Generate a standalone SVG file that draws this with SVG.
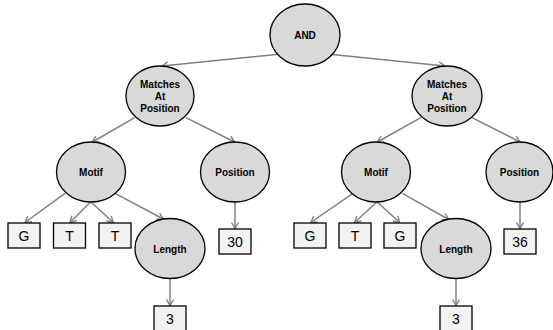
<svg xmlns="http://www.w3.org/2000/svg" width="553" height="330" viewBox="0 0 553 330">
<style>
.n{fill:#d9d9d9;stroke:#000;stroke-width:1.3}
.b{fill:#f2f2f2;stroke:#000;stroke-width:1.3}
.t{font-family:"Liberation Sans",Arial,sans-serif;font-weight:bold;font-size:10px;fill:#000;text-anchor:middle}
.v{font-family:"Liberation Sans",Arial,sans-serif;font-size:14px;fill:#000;text-anchor:middle}
.e{stroke:#808080;stroke-width:1.5;fill:none;marker-end:url(#a)}
</style>
<defs>
<marker id="a" markerUnits="userSpaceOnUse" markerWidth="10" markerHeight="10" refX="7" refY="4" orient="auto">
<path d="M1,0.5 L7,4 L1,7.5" fill="none" stroke="#808080" stroke-width="1.4"/>
</marker>
</defs>
<g id="connectors">
<line class="e" x1="278.7" y1="54.3" x2="162" y2="66"/>
<line class="e" x1="330" y1="54.3" x2="445" y2="66"/>
<line class="e" x1="134.7" y1="117.7" x2="92.4" y2="142"/>
<line class="e" x1="186" y1="117.7" x2="234.6" y2="142"/>
<line class="e" x1="420.8" y1="117.7" x2="377.4" y2="142"/>
<line class="e" x1="472" y1="117.7" x2="520" y2="142"/>
<line class="e" x1="65" y1="193.3" x2="25" y2="222.5"/>
<line class="e" x1="90.7" y1="201.7" x2="70" y2="222.5"/>
<line class="e" x1="90.7" y1="201.7" x2="113.3" y2="222.5"/>
<line class="e" x1="115" y1="193.3" x2="163.3" y2="219"/>
<line class="e" x1="235" y1="202" x2="235" y2="228.5"/>
<line class="e" x1="170" y1="278.5" x2="170" y2="305.5"/>
<line class="e" x1="353" y1="193.3" x2="310.7" y2="222.5"/>
<line class="e" x1="377" y1="201.7" x2="354.7" y2="222.5"/>
<line class="e" x1="377" y1="201.7" x2="399.7" y2="222.5"/>
<line class="e" x1="402.3" y1="193.3" x2="448.7" y2="219.5"/>
<line class="e" x1="520" y1="202" x2="520" y2="228.5"/>
<line class="e" x1="456" y1="278.5" x2="456" y2="305.5"/>
</g>
<g id="and"><ellipse class="n" cx="305" cy="35" rx="35" ry="31"/><text class="t" x="305" y="38.5">AND</text></g>
<g id="map1"><ellipse class="n" cx="160" cy="96" rx="34" ry="30"/><text class="t" x="160" y="88">Matches</text><text class="t" x="160" y="100">At</text><text class="t" x="160" y="112">Position</text></g>
<g id="map2"><ellipse class="n" cx="447" cy="96" rx="35" ry="30"/><text class="t" x="447" y="88">Matches</text><text class="t" x="447" y="100">At</text><text class="t" x="447" y="112">Position</text></g>
<g id="motif1"><ellipse class="n" cx="91" cy="172" rx="34.5" ry="30"/><text class="t" x="91" y="176">Motif</text></g>
<g id="pos1"><ellipse class="n" cx="235" cy="172" rx="34.5" ry="30"/><text class="t" x="235" y="176">Position</text></g>
<g id="motif2"><ellipse class="n" cx="376" cy="172" rx="34.5" ry="30"/><text class="t" x="376" y="176">Motif</text></g>
<g id="pos2"><ellipse class="n" cx="519.5" cy="172" rx="33.5" ry="30"/><text class="t" x="519.5" y="176">Position</text></g>
<g id="len1"><ellipse class="n" cx="170" cy="248.5" rx="35" ry="30"/><text class="t" x="170" y="252.5">Length</text></g>
<g id="len2"><ellipse class="n" cx="456" cy="248.5" rx="35" ry="30"/><text class="t" x="456" y="252.5">Length</text></g>
<g id="g1"><rect class="b" x="8" y="223" width="32" height="25"/><text class="v" x="24" y="240.5">G</text></g>
<g id="t1"><rect class="b" x="53.5" y="223" width="32" height="25"/><text class="v" x="69.5" y="240.5">T</text></g>
<g id="t2"><rect class="b" x="99" y="223" width="32" height="25"/><text class="v" x="115" y="240.5">T</text></g>
<g id="n30"><rect class="b" x="219" y="229" width="32" height="25"/><text class="v" x="235" y="246.5">30</text></g>
<g id="n3a"><rect class="b" x="154" y="306" width="32" height="25"/><text class="v" x="170" y="323.5">3</text></g>
<g id="g2"><rect class="b" x="294" y="223" width="32" height="25"/><text class="v" x="310" y="240.5">G</text></g>
<g id="t3"><rect class="b" x="339" y="223" width="32" height="25"/><text class="v" x="355" y="240.5">T</text></g>
<g id="g3"><rect class="b" x="384" y="223" width="32" height="25"/><text class="v" x="400" y="240.5">G</text></g>
<g id="n36"><rect class="b" x="504" y="229" width="32" height="25"/><text class="v" x="520" y="246.5">36</text></g>
<g id="n3b"><rect class="b" x="440" y="306" width="32" height="25"/><text class="v" x="456" y="323.5">3</text></g>
</svg>
